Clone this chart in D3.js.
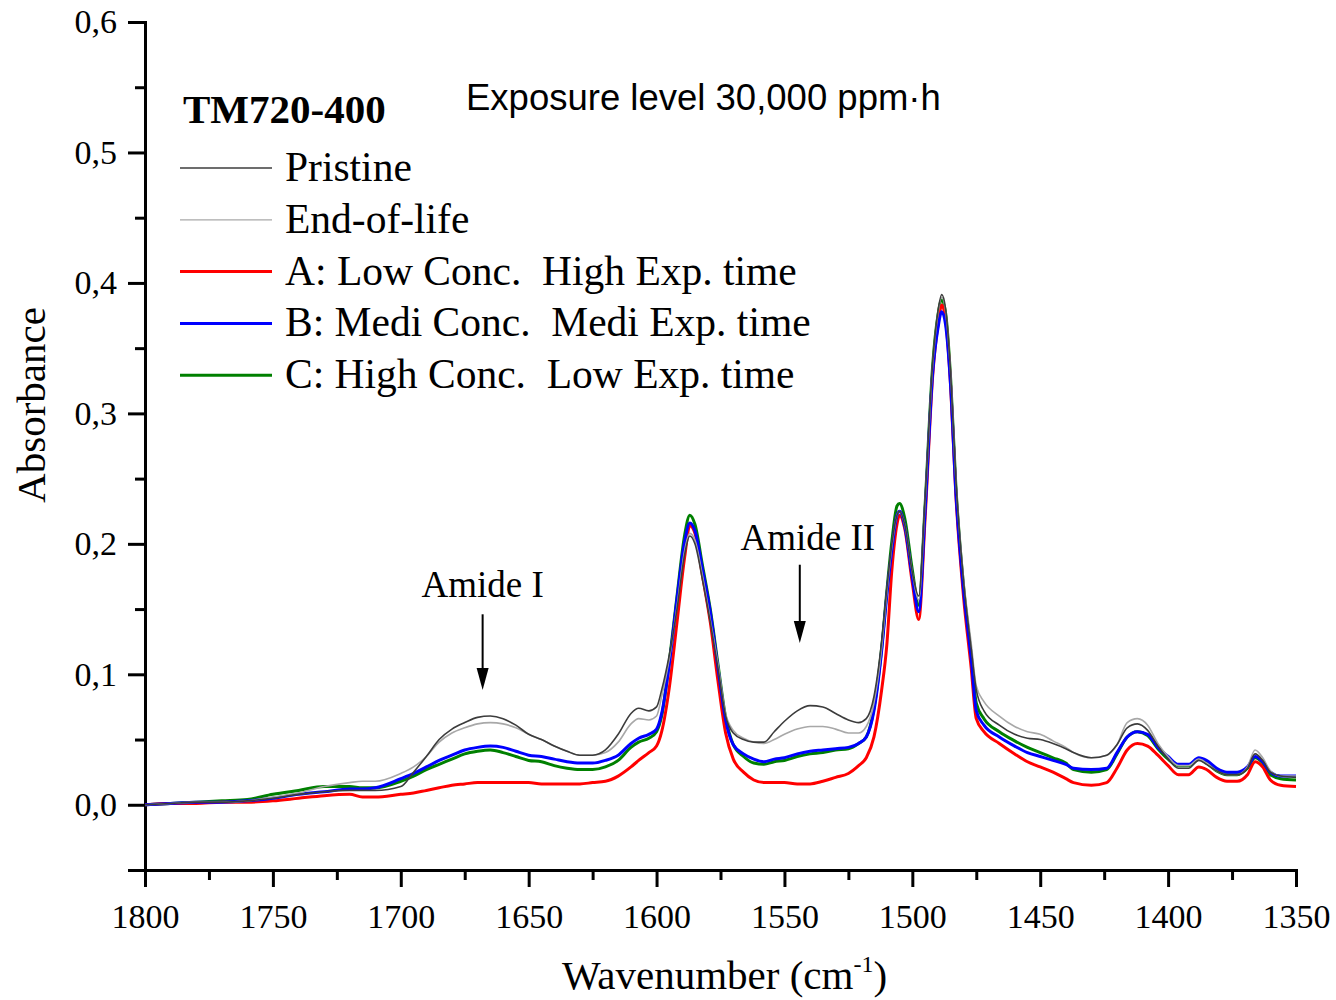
<!DOCTYPE html>
<html>
<head>
<meta charset="utf-8">
<script src="https://cdn.jsdelivr.net/npm/d3@7"></script>
<style>
  body { margin: 0; background: #fff; }
  svg text { font-family: "Liberation Serif", "Times New Roman", serif; fill: #000; }
</style>
</head>
<body>
<div id="chart"></div>
<script>
// wavenumbers (cm-1) shared by all spectra
var wavenumbers = [1800,1790,1780,1770,1760,1750,1740,1730,1720,1715,
  1710,1700,1695,1690,1685,1680,1675,1670,1665,1660,
  1655,1650,1645,1640,1635,1630,1625,1620,1615,1610,
  1607,1603,1600,1598,1595,1592,1589,1587,1585,1582,
  1579,1576,1573,1570,1566,1562,1558,1554,1550,1545,
  1540,1535,1530,1525,1521,1518,1515,1512,1510,1508,
  1506,1505,1503,1500,1497.5,1495,1492,1490,1488.5,1487,
  1485,1483,1480,1477,1475,1472,1466,1460,1455,1450,
  1445,1440,1437,1430,1424,1420,1416,1412,1408,1404,
  1400,1396,1392,1388,1385,1381,1377,1373,1369,1366,
  1363,1360,1356,1350];

var pristine = [.000,.001,.002,.002,.003,.005,.008,.010,.011,.011,
  .011,.014,.025,.037,.050,.058,.063,.067,.068,.066,
  .061,.054,.050,.045,.041,.038,.038,.042,.054,.070,
  .074,.072,.075,.088,.115,.150,.192,.206,.200,.172,
  .140,.105,.068,.055,.050,.048,.048,.056,.064,.072,
  .076,.075,.070,.065,.063,.066,.083,.125,.165,.200,
  .222,.225,.215,.178,.160,.235,.340,.378,.391,.380,
  .330,.250,.172,.120,.088,.072,.061,.054,.051,.050,
  .047,.043,.040,.036,.038,.046,.059,.062,.057,.045,
  .035,.028,.028,.034,.031,.026,.023,.023,.028,.039,
  .034,.025,.022,.021];

var endOfLife = [.000,.001,.002,.002,.003,.006,.009,.014,.017,.018,
  .018,.024,.029,.037,.048,.055,.059,.062,.063,.062,
  .059,.054,.050,.045,.041,.038,.038,.040,.048,.062,
  .066,.065,.068,.083,.112,.152,.195,.208,.203,.175,
  .142,.108,.070,.057,.051,.048,.047,.050,.054,.058,
  .060,.060,.058,.055,.055,.060,.078,.120,.162,.198,
  .222,.225,.215,.178,.157,.232,.338,.376,.389,.378,
  .330,.250,.174,.124,.091,.079,.068,.060,.056,.054,
  .049,.044,.040,.036,.038,.046,.063,.066,.061,.047,
  .037,.030,.030,.035,.032,.026,.023,.023,.029,.042,
  .036,.026,.022,.022];

var seriesA = [.000,.001,.001,.002,.002,.003,.005,.007,.008,.006,
  .006,.008,.009,.011,.013,.015,.016,.017,.017,.017,
  .017,.017,.016,.016,.016,.016,.017,.018,.022,.029,
  .034,.040,.045,.056,.090,.140,.190,.214,.208,.175,
  .140,.095,.055,.035,.025,.019,.017,.017,.017,.016,
  .016,.018,.021,.024,.030,.036,.052,.088,.122,.180,
  .215,.222,.212,.170,.142,.220,.330,.368,.383,.372,
  .320,.238,.160,.105,.066,.056,.047,.039,.033,.029,
  .025,.020,.017,.015,.017,.028,.042,.047,.045,.038,
  .030,.023,.023,.029,.027,.021,.018,.018,.023,.033,
  .029,.019,.015,.014];

var seriesB = [.000,.001,.002,.002,.003,.005,.008,.010,.012,.012,
  .013,.020,.024,.029,.034,.038,.042,.044,.045,.044,
  .041,.038,.037,.035,.033,.032,.032,.034,.038,.047,
  .051,.054,.058,.070,.108,.158,.202,.216,.210,.180,
  .148,.105,.065,.046,.039,.035,.033,.035,.036,.039,
  .041,.042,.043,.044,.047,.052,.072,.118,.160,.195,
  .222,.225,.214,.174,.148,.225,.332,.365,.378,.368,
  .320,.240,.165,.112,.072,.061,.052,.045,.040,.037,
  .034,.031,.028,.027,.028,.040,.052,.056,.054,.044,
  .037,.031,.031,.036,.034,.028,.025,.025,.029,.037,
  .033,.025,.022,.022];

var seriesC = [.000,.001,.002,.003,.004,.008,.011,.014,.014,.013,
  .013,.018,.022,.027,.031,.035,.039,.041,.042,.040,
  .037,.034,.033,.030,.028,.027,.027,.029,.034,.044,
  .048,.051,.056,.068,.110,.160,.207,.222,.215,.183,
  .150,.108,.067,.046,.037,.032,.031,.033,.034,.037,
  .039,.040,.042,.043,.047,.052,.074,.120,.163,.202,
  .229,.231,.220,.180,.153,.230,.338,.375,.387,.377,
  .326,.245,.168,.115,.078,.066,.056,.049,.044,.040,
  .036,.032,.027,.025,.027,.039,.052,.056,.053,.043,
  .035,.030,.030,.035,.032,.026,.023,.023,.028,.036,
  .032,.023,.020,.019];

var legendLabels = ["Pristine", "End-of-life", "A: Low Conc.\u00a0\u00a0High Exp. time",
  "B: Medi Conc.\u00a0\u00a0Medi Exp. time", "C: High Conc.\u00a0\u00a0Low Exp. time"];
var xMajorTicks = [1800,1750,1700,1650,1600,1550,1500,1450,1400,1350];
var xMinorTicks = [1775,1725,1675,1625,1575,1525,1475,1425,1375];
var yMajorTicks = [0,0.1,0.2,0.3,0.4,0.5,0.6];
var yMinorTicks = [-0.05,0.05,0.15,0.25,0.35,0.45,0.55];

// style per series (legend order)
var series = [
  { name: legendLabels[0], values: pristine,  color: "#3c3c3c", width: 1.6, legendWidth: 1.5 },
  { name: legendLabels[1], values: endOfLife, color: "#a8a8a8", width: 1.6, legendWidth: 1.2 },
  { name: legendLabels[2], values: seriesA,   color: "#ff0000", width: 3,   legendWidth: 3 },
  { name: legendLabels[3], values: seriesB,   color: "#0000ff", width: 3,   legendWidth: 3 },
  { name: legendLabels[4], values: seriesC,   color: "#008000", width: 3,   legendWidth: 3 }
];
var drawOrder = [4, 2, 3, 1, 0];

var width = 1336, height = 1000;
var plotLeft = 145, plotRight = 1296, plotTop = 22, plotBottom = 870;

var svg = d3.select("#chart").append("svg").attr("width", width).attr("height", height);

var x = d3.scaleLinear().domain([1800, 1350]).range([plotLeft, plotRight]);
var y = d3.scaleLinear().domain([-0.05, 0.6]).range([plotBottom, plotTop]);

var fmt = function(d) { return d3.format(".1f")(d).replace(".", ","); };

// y axis
svg.append("g").attr("transform", "translate(" + plotLeft + ",0)")
  .call(d3.axisLeft(y).tickValues(yMajorTicks).tickSize(17).tickPadding(11).tickFormat(fmt));
svg.append("g").attr("transform", "translate(" + plotLeft + ",0)")
  .call(d3.axisLeft(y).tickValues(yMinorTicks).tickSize(10).tickFormat(""));

// x axis
svg.append("g").attr("transform", "translate(0," + plotBottom + ")")
  .call(d3.axisBottom(x).tickValues(xMajorTicks).tickSize(17).tickPadding(17).tickFormat(d3.format("d")));
svg.append("g").attr("transform", "translate(0," + plotBottom + ")")
  .call(d3.axisBottom(x).tickValues(xMinorTicks).tickSize(10).tickFormat(""));

svg.selectAll(".domain").attr("stroke", "#000").attr("stroke-width", 3);
svg.selectAll(".tick line").attr("stroke", "#000").attr("stroke-width", 3);
svg.selectAll(".tick text").attr("font-size", 34)
  .attr("font-family", "'Liberation Serif', 'Times New Roman', serif").attr("fill", "#000");

// spectra
var line = d3.line().curve(d3.curveMonotoneX);
drawOrder.forEach(function(k) {
  var s = series[k];
  var pts = wavenumbers.map(function(w, i) { return [x(w), y(s.values[i])]; });
  svg.append("path").attr("d", line(pts)).attr("fill", "none")
    .attr("stroke", s.color).attr("stroke-width", s.width).attr("stroke-linejoin", "round");
});

// axis titles
var xt = svg.append("text").attr("x", (plotLeft + plotRight) / 2 + 4).attr("y", 989)
  .attr("text-anchor", "middle").attr("font-size", 41).text("Wavenumber (cm");
xt.append("tspan").attr("font-size", 24).attr("dy", -17).text("-1");
xt.append("tspan").attr("dy", 17).text(")");

svg.append("text").attr("transform", "translate(45,405) rotate(-90)")
  .attr("text-anchor", "middle").attr("font-size", 41).text("Absorbance");

// legend
svg.append("text").attr("x", 183).attr("y", 123).attr("font-size", 41)
  .attr("font-weight", "bold").text("TM720-400");
var lg = svg.selectAll(".legend").data(series).enter().append("g")
  .attr("transform", function(d, i) { return "translate(180," + (168 + i * 51.8) + ")"; });
lg.append("line").attr("x1", 0).attr("x2", 92).attr("y1", 0).attr("y2", 0)
  .attr("stroke", function(d) { return d.color; })
  .attr("stroke-width", function(d) { return d.legendWidth; });
lg.append("text").attr("x", 105).attr("y", 13).attr("font-size", 41.5)
  .text(function(d) { return d.name; });

svg.append("text").attr("x", 466).attr("y", 110).attr("font-size", 36.5)
  .style("font-family", "'Liberation Sans', Arial, sans-serif")
  .text("Exposure level 30,000 ppm\u00b7h");

// annotations
var notes = [
  { label: "Amide I",  wn: 1668, textAt: 0.159, from: 0.146, to: 0.088 },
  { label: "Amide II", wn: 1544, textAt: 0.195, from: 0.184, to: 0.124 }
];
var textShift = [0, 8];
notes.forEach(function(n, i) {
  var ax = x(n.wn);
  svg.append("text").attr("x", ax + textShift[i]).attr("y", y(n.textAt))
    .attr("text-anchor", "middle").attr("font-size", 37).text(n.label);
  svg.append("line").attr("x1", ax).attr("x2", ax)
    .attr("y1", y(n.from)).attr("y2", y(n.to) - 18)
    .attr("stroke", "#000").attr("stroke-width", 2);
  var tip = y(n.to);
  svg.append("path")
    .attr("d", "M" + (ax - 6) + "," + (tip - 22) + "L" + (ax + 6) + "," + (tip - 22) + "L" + ax + "," + tip + "Z")
    .attr("fill", "#000");
});
</script>
</body>
</html>
